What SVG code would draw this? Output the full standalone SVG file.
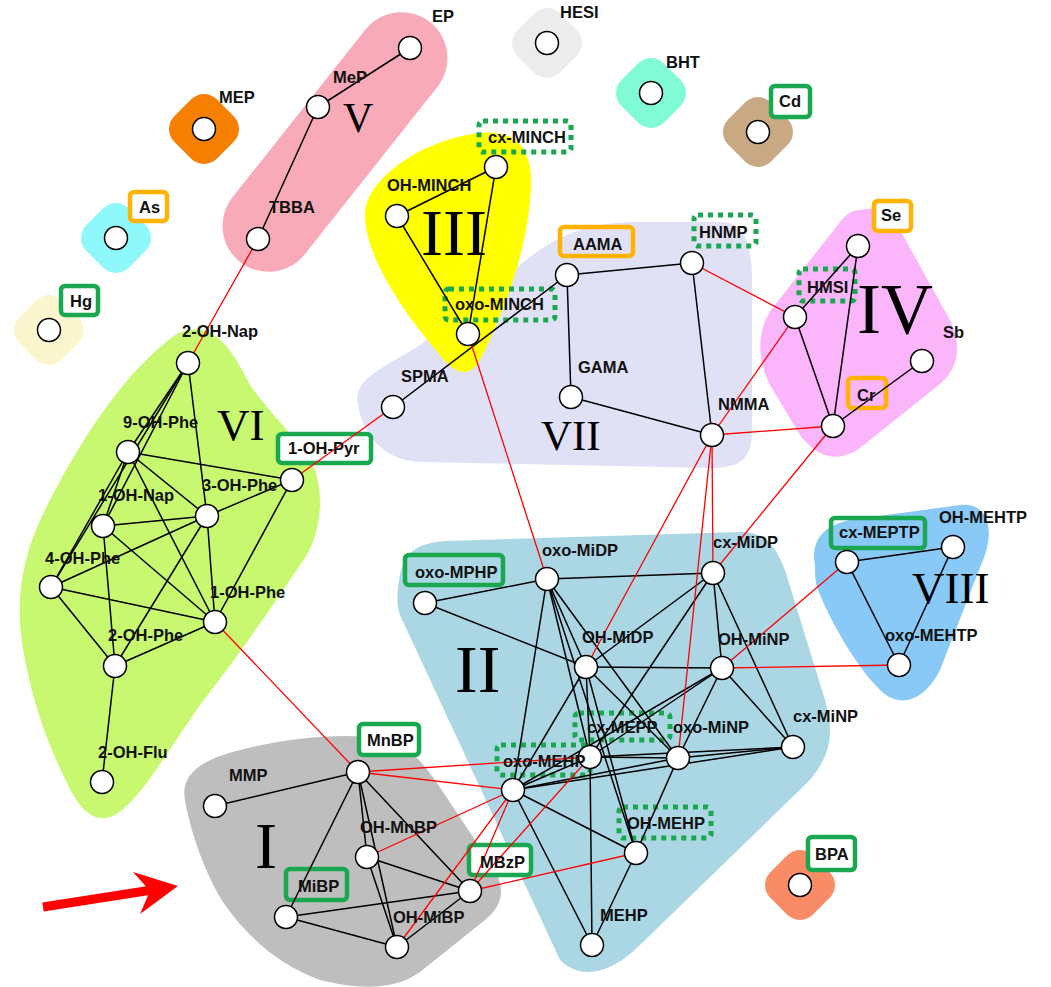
<svg xmlns="http://www.w3.org/2000/svg" width="1051" height="987" viewBox="0 0 1051 987">
<style>
.n{fill:#fff;stroke:#000;stroke-width:1.5}
.e line{stroke:#000;stroke-width:1.5}
.r line{stroke:#f00;stroke-width:1.3}
.t{font-family:"Liberation Sans",Arial,sans-serif;font-weight:bold;font-size:16.5px;fill:#111}
.R{font-family:"Liberation Serif","Times New Roman",serif;fill:#000}
.fg{stroke:#19a84f;stroke-width:4.5;fill:#fff}
.fgn{stroke:#19a84f;stroke-width:4.5;fill:none}
.fo{stroke:#ffb300;stroke-width:4.5;fill:#fff}
.fon{stroke:#ffb300;stroke-width:4.5;fill:none}
.fd{stroke:#19a84f;stroke-width:5;fill:none;stroke-dasharray:5 5}
.blob{stroke:none}
</style>
<rect width="1051" height="987" fill="#fff"/>
<g id="clusters">
  <g id="cluster-V">
    <rect x="182" y="96" width="306" height="92" rx="46" fill="#f8aab8" transform="rotate(-51.6 335 142)"/>
    <text class="R" x="343" y="132" font-size="42">V</text>
  </g>
  <g id="cluster-VII">
    <path d="M358,405 C352,380 380,370 420,345 L520,265 C560,232 590,222 640,222 L720,222 C745,222 752,245 752,280 L752,430 C752,460 740,468 710,468 L420,462 C380,460 362,430 358,405 Z" fill="#e1e1f6"/>
    <text class="R" x="541" y="450" font-size="43">VII</text>
  </g>
  <g id="cluster-III">
    <path d="M365,215 C365,180 420,140 480,133 C525,128 535,160 530,200 C525,260 500,320 480,360 C470,378 455,375 440,355 C410,320 365,260 365,215 Z" fill="#ffff00"/>
    <text class="R" x="421" y="255" font-size="66">III</text>
  </g>
  <g id="cluster-IV">
    <path d="M860,210 C880,205 890,215 900,230 L950,320 C962,345 960,370 935,388 L860,448 C835,465 815,455 800,435 L770,385 C755,355 758,325 775,305 L840,222 C847,213 853,210 860,210 Z" fill="#fbb5fb"/>
    <text class="R" x="857" y="333" font-size="72">IV</text>
  </g>
  <g id="cluster-VI">
    <path d="M192,330 C215,328 230,345 250,385 C275,420 300,440 315,470 C325,500 320,540 300,565 C270,610 235,660 200,705 C165,755 140,800 115,815 C95,825 80,810 68,785 C45,740 25,680 20,625 C18,585 25,550 45,510 C80,440 120,380 165,343 C175,334 183,330 192,330 Z" fill="#c8f870"/>
    <text class="R" x="217" y="440" font-size="45">VI</text>
  </g>
  <g id="cluster-II">
    <path d="M400,575 C405,550 420,543 445,541 L740,532 C765,532 775,545 785,570 L825,700 C835,735 830,755 810,780 L640,945 C610,975 580,980 560,960 L400,615 C396,605 397,590 400,575 Z" fill="#abd7e5"/>
    <text class="R" x="455" y="692" font-size="68">II</text>
  </g>
  <g id="cluster-VIII">
    <path d="M815,565 C810,540 825,525 850,520 L960,505 C985,502 995,525 985,555 L940,670 C925,700 900,710 880,690 C855,665 830,620 818,590 C815,582 815,573 815,565 Z" fill="#89c9f7"/>
    <text class="R" x="912" y="603" font-size="45">VIII</text>
  </g>
  <g id="cluster-I">
    <path d="M185,800 C180,775 200,760 240,750 C290,737 340,733 380,738 C410,745 420,760 435,780 L495,870 C505,890 503,905 485,920 L420,972 C395,990 360,990 320,980 C280,965 250,940 225,905 C205,875 190,830 185,800 Z" fill="#bebebe"/>
    <text class="R" x="255" y="868" font-size="66">I</text>
  </g>
  <g id="singletons">
    <rect class="blob" x="174" y="99" width="60" height="60" rx="18" fill="#f77f00" transform="rotate(45 204 129)"/>
    <rect class="blob" x="86" y="208" width="60" height="60" rx="18" fill="#8ff8fb" transform="rotate(45 116 238)"/>
    <rect class="blob" x="19" y="300" width="60" height="60" rx="18" fill="#fcf6cf" transform="rotate(45 49 330)"/>
    <rect class="blob" x="517" y="13" width="60" height="60" rx="18" fill="#ececec" transform="rotate(45 547 43)"/>
    <rect class="blob" x="621" y="63" width="60" height="60" rx="18" fill="#80fbd6" transform="rotate(45 651 93)"/>
    <rect class="blob" x="728" y="102" width="60" height="60" rx="18" fill="#c9a983" transform="rotate(45 758 132)"/>
    <rect class="blob" x="770" y="855" width="60" height="60" rx="18" fill="#f98b66" transform="rotate(45 800 885)"/>
  </g>
</g>
<g id="label-frames">
  <rect class="fg" x="61" y="286" width="37" height="29" rx="4"/>
  <rect class="fg" x="771" y="86" width="39" height="31" rx="4"/>
  <rect class="fg" x="278" y="434" width="93" height="29" rx="4"/>
  <rect class="fgn" x="405" y="555" width="98" height="30" rx="4"/>
  <rect class="fg" x="359" y="724" width="60" height="31" rx="4"/>
  <rect class="fg" x="469" y="845" width="62" height="30" rx="4"/>
  <rect class="fgn" x="286" y="869" width="61" height="31" rx="4"/>
  <rect class="fgn" x="831" y="518" width="94" height="30" rx="4"/>
  <rect class="fg" x="808" y="837" width="47" height="33" rx="4"/>
  <rect class="fo" x="130" y="192" width="37" height="29" rx="4"/>
  <rect class="fon" x="560" y="227" width="73" height="29" rx="4"/>
  <rect class="fo" x="874" y="201" width="37" height="30" rx="4"/>
  <rect class="fon" x="848" y="378" width="38" height="30" rx="4"/>
  <rect class="fd" x="479" y="121" width="92" height="31" rx="4"/>
  <rect class="fd" x="445" y="289" width="110" height="31" rx="4"/>
  <rect class="fd" x="694" y="215" width="62" height="31" rx="4"/>
  <rect class="fd" x="799" y="269" width="56" height="32" rx="4"/>
  <rect class="fd" x="575" y="713" width="95" height="27" rx="4"/>
  <rect class="fd" x="497" y="745" width="93" height="30" rx="4"/>
  <rect class="fd" x="619" y="807" width="92" height="31" rx="4"/>
</g>
<g id="connectors">
  <g class="e">
    <line x1="410" y1="48" x2="318" y2="107"/>
    <line x1="318" y1="107" x2="258" y2="239"/>
    <line x1="496" y1="167" x2="397" y2="216"/>
    <line x1="496" y1="167" x2="468" y2="334"/>
    <line x1="397" y1="216" x2="468" y2="334"/>
    <line x1="393" y1="407" x2="567" y2="275"/>
    <line x1="567" y1="275" x2="692" y2="263"/>
    <line x1="567" y1="275" x2="571" y2="397"/>
    <line x1="571" y1="397" x2="712" y2="435"/>
    <line x1="692" y1="263" x2="712" y2="435"/>
    <line x1="858" y1="246" x2="795" y2="317"/>
    <line x1="858" y1="246" x2="833" y2="426"/>
    <line x1="795" y1="317" x2="833" y2="426"/>
    <line x1="922" y1="361" x2="833" y2="426"/>
    <line x1="188" y1="363" x2="128" y2="452"/>
    <line x1="188" y1="363" x2="103" y2="526"/>
    <line x1="188" y1="363" x2="51" y2="587"/>
    <line x1="188" y1="363" x2="207" y2="516"/>
    <line x1="128" y1="452" x2="292" y2="480"/>
    <line x1="128" y1="452" x2="207" y2="516"/>
    <line x1="128" y1="452" x2="215" y2="622"/>
    <line x1="128" y1="452" x2="103" y2="526"/>
    <line x1="128" y1="452" x2="51" y2="587"/>
    <line x1="103" y1="526" x2="207" y2="516"/>
    <line x1="103" y1="526" x2="215" y2="622"/>
    <line x1="103" y1="526" x2="115" y2="666"/>
    <line x1="207" y1="516" x2="292" y2="480"/>
    <line x1="207" y1="516" x2="51" y2="587"/>
    <line x1="207" y1="516" x2="215" y2="622"/>
    <line x1="207" y1="516" x2="115" y2="666"/>
    <line x1="51" y1="587" x2="215" y2="622"/>
    <line x1="51" y1="587" x2="115" y2="666"/>
    <line x1="292" y1="480" x2="215" y2="622"/>
    <line x1="115" y1="666" x2="215" y2="622"/>
    <line x1="115" y1="666" x2="102" y2="782"/>
    <line x1="425" y1="603" x2="547" y2="579"/>
    <line x1="425" y1="603" x2="586" y2="667"/>
    <line x1="547" y1="579" x2="713" y2="573"/>
    <line x1="547" y1="579" x2="586" y2="667"/>
    <line x1="547" y1="579" x2="513" y2="790"/>
    <line x1="547" y1="579" x2="590" y2="757"/>
    <line x1="547" y1="579" x2="678" y2="758"/>
    <line x1="547" y1="579" x2="636" y2="853"/>
    <line x1="713" y1="573" x2="586" y2="667"/>
    <line x1="713" y1="573" x2="722" y2="668"/>
    <line x1="713" y1="573" x2="793" y2="747"/>
    <line x1="713" y1="573" x2="590" y2="757"/>
    <line x1="586" y1="667" x2="722" y2="668"/>
    <line x1="586" y1="667" x2="513" y2="790"/>
    <line x1="586" y1="667" x2="590" y2="757"/>
    <line x1="586" y1="667" x2="678" y2="758"/>
    <line x1="586" y1="667" x2="636" y2="853"/>
    <line x1="722" y1="668" x2="678" y2="758"/>
    <line x1="722" y1="668" x2="793" y2="747"/>
    <line x1="722" y1="668" x2="590" y2="757"/>
    <line x1="722" y1="668" x2="513" y2="790"/>
    <line x1="678" y1="758" x2="793" y2="747"/>
    <line x1="678" y1="758" x2="590" y2="757"/>
    <line x1="678" y1="758" x2="513" y2="790"/>
    <line x1="678" y1="758" x2="636" y2="853"/>
    <line x1="590" y1="757" x2="513" y2="790"/>
    <line x1="590" y1="757" x2="793" y2="747"/>
    <line x1="590" y1="757" x2="592" y2="945"/>
    <line x1="513" y1="790" x2="793" y2="747"/>
    <line x1="513" y1="790" x2="636" y2="853"/>
    <line x1="513" y1="790" x2="592" y2="945"/>
    <line x1="636" y1="853" x2="592" y2="945"/>
    <line x1="215" y1="806" x2="358" y2="772"/>
    <line x1="358" y1="772" x2="286" y2="917"/>
    <line x1="358" y1="772" x2="367" y2="857"/>
    <line x1="358" y1="772" x2="397" y2="947"/>
    <line x1="358" y1="772" x2="470" y2="891"/>
    <line x1="367" y1="857" x2="470" y2="891"/>
    <line x1="367" y1="857" x2="397" y2="947"/>
    <line x1="286" y1="917" x2="470" y2="891"/>
    <line x1="286" y1="917" x2="397" y2="947"/>
    <line x1="470" y1="891" x2="397" y2="947"/>
    <line x1="847" y1="562" x2="953" y2="547"/>
    <line x1="847" y1="562" x2="899" y2="665"/>
    <line x1="953" y1="547" x2="899" y2="665"/>
  </g>
  <g class="r">
    <line x1="258" y1="239" x2="188" y2="363"/>
    <line x1="292" y1="480" x2="393" y2="407"/>
    <line x1="215" y1="622" x2="358" y2="772"/>
    <line x1="468" y1="334" x2="547" y2="579"/>
    <line x1="692" y1="263" x2="795" y2="317"/>
    <line x1="795" y1="317" x2="712" y2="435"/>
    <line x1="712" y1="435" x2="833" y2="426"/>
    <line x1="712" y1="435" x2="586" y2="667"/>
    <line x1="712" y1="435" x2="678" y2="758"/>
    <line x1="712" y1="435" x2="713" y2="573"/>
    <line x1="833" y1="426" x2="713" y2="573"/>
    <line x1="722" y1="668" x2="899" y2="665"/>
    <line x1="722" y1="668" x2="847" y2="562"/>
    <line x1="358" y1="772" x2="590" y2="757"/>
    <line x1="358" y1="772" x2="513" y2="790"/>
    <line x1="367" y1="857" x2="513" y2="790"/>
    <line x1="397" y1="947" x2="513" y2="790"/>
    <line x1="470" y1="891" x2="513" y2="790"/>
    <line x1="470" y1="891" x2="590" y2="757"/>
    <line x1="470" y1="891" x2="636" y2="853"/>
  </g>
</g>
<g id="nodes">
  <g id="EP"><circle class="n" cx="410" cy="48" r="11.5"/><text class="t" x="432" y="22">EP</text></g>
  <g id="MeP"><circle class="n" cx="318" cy="107" r="11.5"/><text class="t" x="333" y="83">MeP</text></g>
  <g id="TBBA"><circle class="n" cx="258" cy="239" r="11.5"/><text class="t" x="269" y="213">TBBA</text></g>
  <g id="MEP"><circle class="n" cx="204" cy="129" r="11.5"/><text class="t" x="219" y="103">MEP</text></g>
  <g id="As"><circle class="n" cx="116" cy="238" r="11.5"/><text class="t" x="139" y="213">As</text></g>
  <g id="Hg"><circle class="n" cx="49" cy="330" r="11.5"/><text class="t" x="70" y="307">Hg</text></g>
  <g id="HESI"><circle class="n" cx="547" cy="43" r="11.5"/><text class="t" x="560" y="18">HESI</text></g>
  <g id="BHT"><circle class="n" cx="651" cy="93" r="11.5"/><text class="t" x="666" y="68">BHT</text></g>
  <g id="Cd"><circle class="n" cx="758" cy="132" r="11.5"/><text class="t" x="779" y="107">Cd</text></g>
  <g id="cx-MINCH"><circle class="n" cx="496" cy="167" r="11.5"/><text class="t" x="488" y="143">cx-MINCH</text></g>
  <g id="OH-MINCH"><circle class="n" cx="397" cy="216" r="11.5"/><text class="t" x="387" y="191">OH-MINCH</text></g>
  <g id="oxo-MINCH"><circle class="n" cx="468" cy="334" r="11.5"/><text class="t" x="455" y="310">oxo-MINCH</text></g>
  <g id="AAMA"><circle class="n" cx="567" cy="275" r="11.5"/><text class="t" x="573" y="250">AAMA</text></g>
  <g id="HNMP"><circle class="n" cx="692" cy="263" r="11.5"/><text class="t" x="699" y="238">HNMP</text></g>
  <g id="SPMA"><circle class="n" cx="393" cy="407" r="11.5"/><text class="t" x="401" y="382">SPMA</text></g>
  <g id="GAMA"><circle class="n" cx="571" cy="397" r="11.5"/><text class="t" x="578" y="373">GAMA</text></g>
  <g id="NMMA"><circle class="n" cx="712" cy="435" r="11.5"/><text class="t" x="718" y="410">NMMA</text></g>
  <g id="HMSI"><circle class="n" cx="795" cy="317" r="11.5"/><text class="t" x="807" y="293">HMSI</text></g>
  <g id="Se"><circle class="n" cx="858" cy="246" r="11.5"/><text class="t" x="881" y="221">Se</text></g>
  <g id="Sb"><circle class="n" cx="922" cy="361" r="11.5"/><text class="t" x="943" y="338">Sb</text></g>
  <g id="Cr"><circle class="n" cx="833" cy="426" r="11.5"/><text class="t" x="857" y="401">Cr</text></g>
  <g id="n-2-OH-Nap"><circle class="n" cx="188" cy="363" r="11.5"/><text class="t" x="182" y="337">2-OH-Nap</text></g>
  <g id="n-9-OH-Phe"><circle class="n" cx="128" cy="452" r="11.5"/><text class="t" x="123" y="428">9-OH-Phe</text></g>
  <g id="n-1-OH-Pyr"><circle class="n" cx="292" cy="480" r="11.5"/><text class="t" x="288" y="454">1-OH-Pyr</text></g>
  <g id="n-3-OH-Phe"><circle class="n" cx="207" cy="516" r="11.5"/><text class="t" x="202" y="491">3-OH-Phe</text></g>
  <g id="n-1-OH-Nap"><circle class="n" cx="103" cy="526" r="11.5"/><text class="t" x="98" y="501">1-OH-Nap</text></g>
  <g id="n-4-OH-Phe"><circle class="n" cx="51" cy="587" r="11.5"/><text class="t" x="45" y="564">4-OH-Phe</text></g>
  <g id="n-1-OH-Phe"><circle class="n" cx="215" cy="622" r="11.5"/><text class="t" x="210" y="598">1-OH-Phe</text></g>
  <g id="n-2-OH-Phe"><circle class="n" cx="115" cy="666" r="11.5"/><text class="t" x="108" y="641">2-OH-Phe</text></g>
  <g id="n-2-OH-Flu"><circle class="n" cx="102" cy="782" r="11.5"/><text class="t" x="98" y="758">2-OH-Flu</text></g>
  <g id="oxo-MPHP"><circle class="n" cx="425" cy="603" r="11.5"/><text class="t" x="415" y="578">oxo-MPHP</text></g>
  <g id="oxo-MiDP"><circle class="n" cx="547" cy="579" r="11.5"/><text class="t" x="542" y="556">oxo-MiDP</text></g>
  <g id="cx-MiDP"><circle class="n" cx="713" cy="573" r="11.5"/><text class="t" x="713" y="548">cx-MiDP</text></g>
  <g id="OH-MiDP"><circle class="n" cx="586" cy="667" r="11.5"/><text class="t" x="582" y="643">OH-MiDP</text></g>
  <g id="OH-MiNP"><circle class="n" cx="722" cy="668" r="11.5"/><text class="t" x="718" y="645">OH-MiNP</text></g>
  <g id="cx-MiNP"><circle class="n" cx="793" cy="747" r="11.5"/><text class="t" x="793" y="722">cx-MiNP</text></g>
  <g id="oxo-MiNP"><circle class="n" cx="678" cy="758" r="11.5"/><text class="t" x="673" y="733">oxo-MiNP</text></g>
  <g id="cx-MEPP"><circle class="n" cx="590" cy="757" r="11.5"/><text class="t" x="587" y="733">cx-MEPP</text></g>
  <g id="oxo-MEHP"><circle class="n" cx="513" cy="790" r="11.5"/><text class="t" x="503" y="767">oxo-MEHP</text></g>
  <g id="OH-MEHP"><circle class="n" cx="636" cy="853" r="11.5"/><text class="t" x="627" y="829">OH-MEHP</text></g>
  <g id="MEHP"><circle class="n" cx="592" cy="945" r="11.5"/><text class="t" x="600" y="921">MEHP</text></g>
  <g id="MnBP"><circle class="n" cx="358" cy="772" r="11.5"/><text class="t" x="367" y="746">MnBP</text></g>
  <g id="MMP"><circle class="n" cx="215" cy="806" r="11.5"/><text class="t" x="229" y="781">MMP</text></g>
  <g id="OH-MnBP"><circle class="n" cx="367" cy="857" r="11.5"/><text class="t" x="360" y="833">OH-MnBP</text></g>
  <g id="MBzP"><circle class="n" cx="470" cy="891" r="11.5"/><text class="t" x="480" y="868">MBzP</text></g>
  <g id="MiBP"><circle class="n" cx="286" cy="917" r="11.5"/><text class="t" x="298" y="892">MiBP</text></g>
  <g id="OH-MiBP"><circle class="n" cx="397" cy="947" r="11.5"/><text class="t" x="393" y="923">OH-MiBP</text></g>
  <g id="cx-MEPTP"><circle class="n" cx="847" cy="562" r="11.5"/><text class="t" x="839" y="538">cx-MEPTP</text></g>
  <g id="OH-MEHTP"><circle class="n" cx="953" cy="547" r="11.5"/><text class="t" x="939" y="523">OH-MEHTP</text></g>
  <g id="oxo-MEHTP"><circle class="n" cx="899" cy="665" r="11.5"/><text class="t" x="885" y="641">oxo-MEHTP</text></g>
  <g id="BPA"><circle class="n" cx="800" cy="885" r="11.5"/><text class="t" x="815" y="860">BPA</text></g>
</g>
<g id="arrow">
  <line x1="43" y1="907" x2="152" y2="890" stroke="#f00" stroke-width="9"/>
  <polygon points="133,872 178,886 140,914 150,891" fill="#f00"/>
</g>
</svg>
